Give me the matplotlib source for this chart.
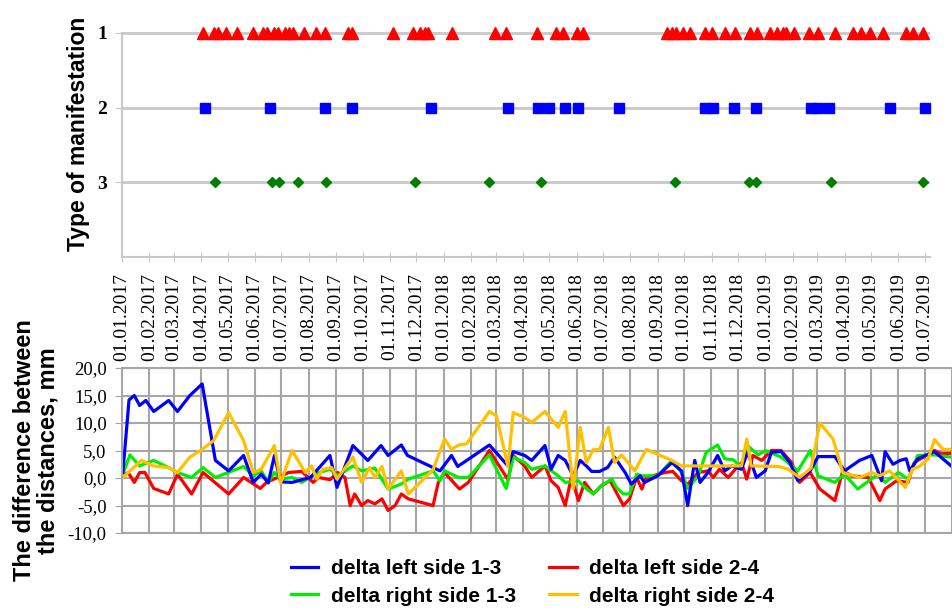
import numpy as np
import pandas as pd
import matplotlib
matplotlib.use("Agg")
import matplotlib.pyplot as plt
import matplotlib.dates as mdates

start = pd.Timestamp("2017-01-01")

# events (days counted from 01.01.2017)
type1_days = [92, 104, 109, 118, 131, 149, 160, 164, 172, 177, 185, 189, 194, 206, 220, 230,
              256, 261, 307, 330, 338, 344, 347, 374, 423, 436, 471, 493, 500, 516, 523,
              618, 624, 629, 637, 644, 661, 670, 684, 696, 713, 720, 735, 743, 750, 754,
              762, 779, 790, 809, 830, 839, 849, 864, 890, 898, 909]
type2_days = [94, 168, 230, 261, 351, 438, 472, 484, 503, 517, 564, 662, 671, 694, 719,
              782, 790, 802, 872, 911]
type3_days = [105, 170, 178, 200, 231, 332, 416, 475, 627, 712, 719, 804, 909]

# differences between the distances, mm
left13_days = [1, 8, 14, 20, 27, 36, 53, 63, 77, 91, 106, 121, 138, 149, 158, 166, 173, 180,
               193, 214, 236, 244, 262, 279, 294, 302, 317, 324, 353, 361, 374, 381, 417,
               438, 444, 457, 465, 480, 487, 495, 503, 512, 520, 527, 533, 542, 551, 559,
               571, 578, 588, 593, 608, 624, 635, 642, 650, 656, 665, 676, 684, 692, 703,
               710, 720, 730, 737, 748, 758, 767, 781, 790, 809, 820, 837, 851, 862, 866,
               875, 883, 890, 894, 903, 922, 941]
left13_vals = [1.0, 14.2, 15.0, 13.2, 14.1, 12.1, 14.1, 12.1, 15.0, 17.1, 3.2, 1.3, 4.1, -0.8,
               0.7, -0.9, 4.1, -0.7, -0.8, 0.1, 4.1, -1.7, 5.9, 3.2, 5.9, 4.1, 6.0, 4.1, 1.9,
               1.3, 4.1, 2.1, 6.0, 2.2, 4.8, 4.1, 3.2, 5.9, 1.6, 4.1, 3.2, 0.4, 3.2, 2.2, 1.2,
               1.2, 1.9, 3.8, 1.0, -1.1, 0.4, -0.8, 0.4, 2.8, 1.3, -5.0, 3.2, -0.8, 1.0, 4.1,
               1.3, 2.2, 1.6, 4.7, 0.1, 1.3, 4.7, 4.8, 2.8, -0.5, 1.3, 3.9, 3.9, 1.3, 3.2,
               4.1, -0.5, 4.8, 2.5, 3.2, 3.5, 1.3, 3.5, 4.8, 2.2]

left24_days = [1, 7, 14, 20, 26, 36, 53, 63, 79, 92, 121, 138, 157, 164, 181, 189, 204, 217,
               223, 236, 245, 253, 259, 264, 272, 279, 287, 295, 302, 310, 317, 325, 353,
               359, 366, 383, 393, 417, 438, 444, 457, 465, 480, 487, 495, 503, 510, 518,
               525, 535, 544, 554, 561, 569, 576, 584, 590, 595, 616, 625, 635, 642, 654,
               665, 671, 678, 688, 696, 703, 709, 716, 726, 737, 748, 760, 769, 781, 792,
               809, 818, 828, 847, 860, 866, 879, 892, 899, 922, 930, 941]
left24_vals = [0.4, 1.0, -0.8, 1.0, 1.0, -1.9, -2.9, 0.7, -2.9, 1.0, -2.9, 0.1, -1.9, -0.8,
               0.4, 1.0, 1.2, -0.8, 0.1, -0.3, 1.0, 0.1, -5.0, -2.9, -5.0, -4.1, -4.7, -3.8,
               -5.9, -5.0, -2.9, -3.8, -5.0, -0.8, 1.0, -2.0, -0.8, 5.0, -0.3, 4.1, 2.2, 0.1,
               2.2, -0.5, -1.7, -5.0, 0.1, -4.1, -0.8, -2.9, -1.4, -0.5, -2.6, -5.0, -3.8,
               0.1, -2.0, 0.1, 1.0, 1.2, -0.5, -1.1, 1.0, 1.3, 0.1, 1.6, 0.1, 1.6, 2.8, -0.2,
               4.1, 3.2, 5.0, 5.0, 2.8, -0.8, 1.0, -2.0, -4.1, 1.3, 0.4, 0.1, -4.1, -2.0,
               -0.5, -0.8, 2.8, 5.0, 4.4, 4.5]

right13_days = [1, 9, 20, 36, 53, 63, 79, 92, 106, 138, 149, 158, 166, 173, 180, 193, 204,
                219, 236, 245, 262, 272, 287, 302, 317, 325, 353, 361, 366, 382, 393, 417,
                436, 444, 457, 465, 480, 495, 503, 518, 525, 535, 544, 556, 561, 569, 576,
                584, 590, 608, 624, 635, 642, 654, 663, 676, 684, 694, 703, 710, 722, 730,
                748, 767, 781, 790, 809, 820, 835, 858, 866, 881, 892, 903, 922, 941]
right13_vals = [0.7, 4.2, 2.2, 3.2, 1.9, 1.0, 0.1, 1.9, 0.1, 2.1, 0.4, 1.3, -0.8, 1.0, -0.2,
                0.1, -0.8, 0.7, 1.6, 0.4, 2.2, 1.3, 1.8, -2.0, -1.1, -0.2, 1.3, -0.5, 1.3,
                0.1, 0.1, 4.2, -1.9, 3.8, 2.8, 1.6, 2.2, 0.4, -0.8, -0.5, -1.7, -2.9, -1.4,
                -0.2, -1.7, -2.9, -2.9, 0.7, 0.4, 0.4, 3.2, 1.0, -1.9, 0.4, 4.7, 6.0, 3.5,
                3.3, 1.9, 5.9, 4.2, 5.0, 3.8, 1.3, 5.0, 0.4, -0.8, 0.7, -2.0, 0.7, -0.8,
                1.0, -0.2, 4.1, 4.2, 3.8]

right24_days = [1, 22, 36, 53, 63, 77, 91, 104, 121, 138, 149, 158, 173, 180, 193, 208, 215,
                221, 228, 238, 244, 262, 272, 281, 287, 295, 302, 317, 325, 353, 366, 374,
                382, 391, 417, 425, 438, 444, 457, 465, 480, 495, 503, 512, 520, 527, 535,
                542, 552, 559, 567, 582, 595, 624, 635, 703, 709, 714, 745, 756, 769, 782,
                792, 807, 818, 837, 851, 860, 871, 889, 897, 905, 915, 922, 932, 941]
right24_vals = [0.1, 3.2, 2.2, 1.9, 1.0, 3.8, 5.2, 6.8, 11.9, 6.8, 1.0, 1.6, 5.9, -0.9, 5.0,
                1.0, 2.2, -0.2, 1.6, 1.9, -0.2, 3.8, -0.8, 1.9, 0.1, 2.1, -2.0, 1.3, -2.9,
                1.5, 7.1, 5.2, 6.0, 6.2, 12.1, 11.3, 2.1, 11.9, 11.0, 10.1, 12.1, 9.2, 12.1,
                -2.0, 9.2, 2.8, 5.2, 5.2, 9.2, 2.8, 4.2, 1.3, 5.2, 3.2, 2.2, 2.2, 7.1, 2.2,
                2.1, 1.6, 0.1, 1.8, 10.0, 7.1, 1.0, 0.1, 1.0, 0.4, 1.3, -1.7, 1.6, 2.1, 3.5,
                7.0, 5.2, 5.2]

y_ticks = [-10, -5, 0, 5, 10, 15, 20]
y_tick_labels = ["-10,0", "-5,0", "0,0", "5,0", "10,0", "15,0", "20,0"]


def to_dates(days):
    return start + pd.to_timedelta(days, unit="D")


serif = "Liberation Serif"
sans = "Liberation Sans"
grid_top = "#c8c8c8"
grid_bot = "#a6a6a6"
months = pd.date_range("2017-01-01", "2019-07-01", freq="MS")

fig = plt.figure(figsize=(9.53, 6.10), dpi=100)

## upper chart: type of manifestation
ax1 = fig.add_axes([0.128, 0.5787, 0.848, 0.404])
ax1.plot(to_dates(type1_days), [1] * len(type1_days), "^", color="#ff0000", ms=9, ls="none", clip_on=False, zorder=3)
ax1.plot(to_dates(type2_days), [2] * len(type2_days), "s", color="#0000ff", ms=7.5, ls="none", clip_on=False, zorder=3)
ax1.plot(to_dates(type3_days), [3] * len(type3_days), "D", color="#008000", ms=5, ls="none", clip_on=False, zorder=3)
ax1.set_xlim(start, start + pd.Timedelta(days=917))
ax1.set_ylim(4, 0.7)
ax1.set_yticks([1, 2, 3])
ax1.set_yticklabels(["1", "2", "3"], fontfamily=serif, fontweight="bold", fontsize=14)
for y in [1, 2, 3]:
    ax1.axhline(y, color=grid_top, lw=2, zorder=1)
ax1.set_xticks(months)
ax1.xaxis.set_major_formatter(mdates.DateFormatter("%d.%m.%Y"))
for lab in ax1.get_xticklabels():
    lab.set_rotation(90)
    lab.set_fontfamily(serif)
    lab.set_fontsize(14)
ax1.tick_params(axis="x", direction="inout", length=7, color=grid_top, pad=8)
ax1.tick_params(axis="y", direction="out", length=5, color=grid_top, pad=6)
for s in ["top", "right"]:
    ax1.spines[s].set_visible(False)
ax1.spines["left"].set_bounds(1, 4)
for s in ["left", "bottom"]:
    ax1.spines[s].set_color(grid_top)
    ax1.spines[s].set_linewidth(1.5)
ax1.set_ylabel("Type of manifestation", fontfamily=sans, fontweight="bold", fontsize=16.5, labelpad=5)

## lower chart: differences
ax2 = fig.add_axes([0.128, 0.1262, 0.871, 0.2705])
ax2.plot(to_dates(left24_days), left24_vals, color="#ff0000", lw=2.3, label="delta left side 2-4")
ax2.plot(to_dates(right13_days), right13_vals, color="#00ee00", lw=2.3, label="delta right side 1-3")
ax2.plot(to_dates(left13_days), left13_vals, color="#0000ff", lw=2.3, label="delta left side 1-3")
ax2.plot(to_dates(right24_days), right24_vals, color="#ffc000", lw=2.3, label="delta right side 2-4")
ax2.set_xlim(start, pd.Timestamp("2019-08-01"))
ax2.set_ylim(-10, 20)
ax2.set_xticks(months)
ax2.set_xticklabels([])
ax2.tick_params(axis="x", length=0)
ax2.set_yticks(y_ticks)
ax2.set_yticklabels(y_tick_labels, fontfamily=serif, fontsize=13.5)
ax2.tick_params(axis="y", direction="out", length=5, color=grid_bot, pad=6)
ax2.grid(True, color=grid_bot, lw=1.5)
ax2.set_axisbelow(True)
for s in ax2.spines.values():
    s.set_color(grid_bot)
    s.set_linewidth(1.5)
ax2.set_ylabel("The difference between\nthe distances, mm", fontfamily=sans, fontweight="bold",
               fontsize=17, labelpad=6, linespacing=1.0)

handles, labels = ax2.get_legend_handles_labels()
order = [2, 1, 0, 3]
leg = fig.legend([handles[i] for i in order], [labels[i] for i in order], ncol=2,
                 loc="center", bbox_to_anchor=(0.559, 0.045), frameon=False,
                 prop={"family": sans, "weight": "bold", "size": 15},
                 handlelength=1.3, columnspacing=1.6, labelspacing=0.4, handletextpad=0.6,
                 borderpad=0.2)

fig.savefig("out.png", dpi=100)
